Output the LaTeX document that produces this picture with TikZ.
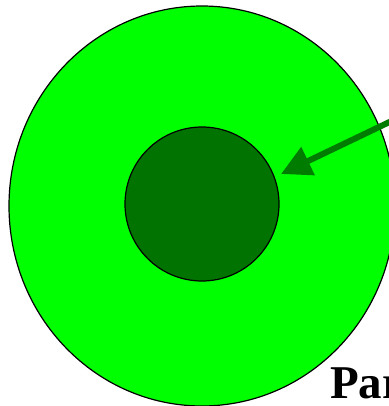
\documentclass[tikz,border=0pt]{standalone}
\usepackage{fontspec}
\setmainfont{Liberation Serif}
\usetikzlibrary{arrows.meta,shapes.geometric}
\definecolor{cellgreen}{RGB}{0,255,0}
\definecolor{coregreen}{RGB}{0,115,0}
\definecolor{pointgreen}{RGB}{0,125,0}
\tikzset{
  cell/.style={draw=black, line width=1.2pt, fill=cellgreen, ellipse, inner sep=0pt,
               minimum width=386pt, minimum height=400pt},
  core/.style={draw=black, line width=1.2pt, fill=coregreen, circle, inner sep=0pt,
               minimum size=154pt},
  pointer/.style={-{Triangle[length=30pt,width=30pt]}, pointgreen, line width=6pt},
  lbl/.style={font=\fontsize{47}{50}\selectfont\bfseries, inner sep=0pt, anchor=base west},
}
\begin{document}
\begin{tikzpicture}[x=1pt, y=-1pt]
  \useasboundingbox (0,0) rectangle (388,406);
  \node[cell] (outer) at (202,206) {};
  \node[core] (nucleus) at (202,204) {};
  \coordinate (tail) at (402,116);
  \coordinate (tip) at (281,174);
  \draw[pointer] (tail) -- (tip);
  \node[lbl] (name) at (330,398) {Par};
\end{tikzpicture}
\end{document}
